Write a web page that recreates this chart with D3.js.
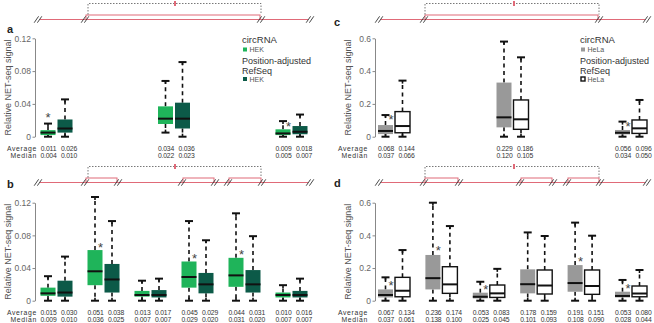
<!DOCTYPE html>
<html>
<head>
<meta charset="utf-8">
<script src="https://cdn.jsdelivr.net/npm/d3@7"></script>
<style>
  body { margin: 0; background: #fff; }
  svg { display: block; font-family: "Liberation Sans", Arial, sans-serif; }
</style>
</head>
<body>
<div id="chart"></div>
<script>
// box stats per box: [min, q1, median, q3, max]
const aCirc = [[0, 0.002, 0.005, 0.008, 0.016], [0.005, 0.0155, 0.022, 0.037, 0.068], [0, 0.002, 0.004, 0.009, 0.019]];
const aRef  = [[0, 0.005, 0.010, 0.021, 0.0455], [0, 0.010, 0.022, 0.0415, 0.091], [0, 0.003, 0.006, 0.013, 0.027]];
const aAvg = ["0.011", "0.026", "0.034", "0.036", "0.009", "0.018"];
const aMed = ["0.004", "0.010", "0.022", "0.023", "0.005", "0.007"];
const aStars = [0.025, null, 0.014];
const aGroups = [0, 2.5, 5];

const bCirc = [[0, 0.006, 0.009, 0.016, 0.030], [0, 0.019, 0.036, 0.062, 0.127], [0, 0.005, 0.007, 0.012, 0.0245],
               [0, 0.016, 0.029, 0.048, 0.0975], [0, 0.017, 0.031, 0.0525, 0.107], [0, 0.004, 0.007, 0.010, 0.019]];
const bRef  = [[0, 0.005, 0.010, 0.0245, 0.054], [0, 0.010, 0.026, 0.045, 0.0975], [0, 0.004, 0.007, 0.013, 0.027],
               [0, 0.009, 0.020, 0.034, 0.074], [0, 0.010, 0.020, 0.0375, 0.079], [0, 0.004, 0.007, 0.012, 0.027]];
const bAvg = ["0.015", "0.030", "0.051", "0.038", "0.013", "0.017", "0.045", "0.029", "0.044", "0.031", "0.010", "0.016"];
const bMed = ["0.009", "0.010", "0.036", "0.025", "0.007", "0.007", "0.029", "0.020", "0.031", "0.020", "0.007", "0.007"];
const bStars = [null, 0.067, null, 0.054, 0.059, null];
const bGroups = [0, 1, 2, 3, 4, 5];

const cCirc = [[0, 0.016, 0.035, 0.071, 0.132], [0, 0.057, 0.118, 0.33, 0.58], [0, 0.014, 0.024, 0.041, 0.092]];
const cRef  = [[0, 0.024, 0.065, 0.153, 0.342], [0, 0.045, 0.106, 0.224, 0.484], [0, 0.020, 0.051, 0.102, 0.224]];
const cAvg = ["0.068", "0.144", "0.229", "0.186", "0.056", "0.096"];
const cMed = ["0.037", "0.066", "0.120", "0.105", "0.034", "0.050"];
const cStars = [0.112, null, 0.071];
const cGroups = [0, 2.5, 5];

const dCirc = [[0, 0.020, 0.035, 0.069, 0.143], [0, 0.069, 0.138, 0.28, 0.60], [0, 0.014, 0.024, 0.049, 0.116],
               [0, 0.045, 0.101, 0.192, 0.418], [0, 0.055, 0.108, 0.218, 0.478], [0, 0.020, 0.029, 0.055, 0.127]];
const dRef  = [[0, 0.024, 0.061, 0.143, 0.31], [0, 0.045, 0.100, 0.208, 0.457], [0, 0.020, 0.045, 0.096, 0.195],
               [0, 0.041, 0.093, 0.188, 0.396], [0, 0.039, 0.090, 0.188, 0.398], [0, 0.024, 0.044, 0.090, 0.188]];
const dAvg = ["0.067", "0.134", "0.236", "0.174", "0.053", "0.083", "0.178", "0.159", "0.191", "0.151", "0.053", "0.080"];
const dMed = ["0.037", "0.061", "0.138", "0.100", "0.025", "0.045", "0.101", "0.093", "0.108", "0.090", "0.028", "0.044"];
const dStars = [0.10, 0.314, 0.08, null, 0.249, 0.086];
const dGroups = [0, 1, 2, 3, 4, 5];

const ticksHEK = [0, 0.04, 0.08, 0.12];
const ticksHeLa = [0, 0.2, 0.4, 0.6];

// gene models (arbitrary units along the locus)
const geneA = { breaks: [0, 47, 223, 272], exons: [[47, 223]], bracket: [50, 223], site: 137 };
const geneB = { breaks: [0, 47, 80, 144, 177, 190, 224, 272], exons: [[47, 80], [144, 177], [190, 224]], bracket: [50, 223], site: 137 };
const geneC = { breaks: [0, 45, 220, 268], exons: [[45, 220]], bracket: [46, 220], site: 135 };
const geneD = { breaks: [0, 45, 80, 141, 174, 188, 221, 268], exons: [[45, 80], [141, 174], [188, 221]], bracket: [46, 220], site: 135 };

const W = 654, H = 323;
const svg = d3.select("#chart").append("svg").attr("width", W).attr("height", H);

const red = "#e06a78";

function drawGene(gene, x, yLine) {
  const g = svg.append("g");
  const b = gene.breaks;
  g.append("line")
    .attr("x1", x(b[0]) + 2).attr("x2", x(b[b.length - 1]) - 2)
    .attr("y1", yLine).attr("y2", yLine)
    .attr("stroke", red).attr("stroke-width", 1.2);
  gene.exons.forEach(e => {
    g.append("rect")
      .attr("x", x(e[0]) + 1).attr("y", yLine - 4.5)
      .attr("width", x(e[1]) - x(e[0]) - 2).attr("height", 4.5)
      .attr("fill", "#fff").attr("stroke", red).attr("stroke-width", 1);
  });
  // break marks "//"
  b.forEach(v => {
    [-1.6, 1.6].forEach(o => {
      g.append("line")
        .attr("x1", x(v) + o - 2.2).attr("y1", yLine + 3.2)
        .attr("x2", x(v) + o + 2.2).attr("y2", yLine - 3.2)
        .attr("stroke", "#333").attr("stroke-width", 0.9);
    });
  });
  const yTop = yLine - 16;
  g.append("path")
    .attr("d", `M${x(gene.bracket[0])},${yLine - 5}V${yTop}H${x(gene.bracket[1])}V${yLine - 5}`)
    .attr("fill", "none").attr("stroke", "#555").attr("stroke-width", 0.8)
    .attr("stroke-dasharray", "1.5,1.5");
  g.append("rect")
    .attr("x", x(gene.site) - 1).attr("y", yTop - 2.5)
    .attr("width", 2).attr("height", 5).attr("fill", red);
}

function drawPanel(p) {
  const g = svg.append("g");
  const y = d3.scaleLinear().domain([0, p.ticks[p.ticks.length - 1]]).range([p.y0, p.y1]);
  const xg = d3.scaleLinear().domain([0, 5]).range(p.xRange);

  const axis = d3.axisLeft(y).tickValues(p.ticks).tickSize(2.5).tickSizeOuter(0).tickPadding(1.5)
    .tickFormat(d => d === 0 ? "0" : d3.format(p.fmt)(d));
  const ax = g.append("g").attr("transform", `translate(${p.axisX},0)`).call(axis);
  ax.select(".domain").attr("stroke", "#888");
  ax.selectAll(".tick line").attr("stroke", "#888");
  ax.selectAll(".tick text").attr("fill", "#666").style("font-size", "8.5px")
    .style("font-family", "'Liberation Sans', Arial, sans-serif");

  g.append("text")
    .attr("transform", `translate(${p.axisX - 24},${(p.y0 + p.y1) / 2}) rotate(-90)`)
    .attr("text-anchor", "middle").attr("fill", "#555").style("font-size", "9px")
    .text("Relative NET-seq signal");

  g.append("text").attr("x", p.letterX).attr("y", p.letterY)
    .style("font-size", "11px").style("font-weight", "bold").attr("fill", "#222").text(p.letter);

  const bw = 15, off = 8.5;
  const boxes = [];
  p.groups.forEach((gi, i) => {
    boxes.push({ cx: xg(gi) - off, lx: xg(gi) - 8, s: p.circ[i], fill: p.circFill, stroke: "none", star: p.stars[i] });
    boxes.push({ cx: xg(gi) + off, lx: xg(gi) + 12.5, s: p.ref[i], fill: p.refFill, stroke: p.refStroke, star: null });
  });

  boxes.forEach((b, i) => {
    const [mn, q1, md, q3, mx] = b.s;
    // whiskers
    g.append("line").attr("x1", b.cx).attr("x2", b.cx).attr("y1", y(q3)).attr("y2", y(mx))
      .attr("stroke", "#111").attr("stroke-width", 1.6).attr("stroke-dasharray", "4,3.5");
    g.append("line").attr("x1", b.cx).attr("x2", b.cx).attr("y1", y(q1)).attr("y2", y(mn))
      .attr("stroke", "#111").attr("stroke-width", 1.6).attr("stroke-dasharray", "4,3.5");
    g.append("line").attr("x1", b.cx).attr("x2", b.cx).attr("y1", y(mx)).attr("y2", y(mx) + 3)
      .attr("stroke", "#111").attr("stroke-width", 1.6);
    g.append("line").attr("x1", b.cx).attr("x2", b.cx).attr("y1", y(mn)).attr("y2", y(mn) - 3)
      .attr("stroke", "#111").attr("stroke-width", 1.6);
    [mx, mn].forEach(v => {
      g.append("line").attr("x1", b.cx - 4).attr("x2", b.cx + 4).attr("y1", y(v)).attr("y2", y(v))
        .attr("stroke", "#111").attr("stroke-width", 2);
    });
    g.append("rect").attr("x", b.cx - bw / 2).attr("y", y(q3))
      .attr("width", bw).attr("height", y(q1) - y(q3))
      .attr("fill", b.fill).attr("stroke", b.stroke).attr("stroke-width", 1.4);
    g.append("line").attr("x1", b.cx - bw / 2).attr("x2", b.cx + bw / 2).attr("y1", y(md)).attr("y2", y(md))
      .attr("stroke", "#111").attr("stroke-width", 2);
    if (b.star != null) {
      const above = b.star > mx;
      g.append("text").attr("x", above ? b.cx : b.cx + 5.5).attr("y", y(b.star) + 6)
        .attr("text-anchor", "middle").attr("fill", "#444").style("font-size", "13px").text("*");
    }
    g.append("text").attr("x", b.lx).attr("y", p.avgY).attr("text-anchor", "middle")
      .attr("fill", "#333").style("font-size", "6.8px").style("letter-spacing", "-0.2px").text(p.avg[i]);
    g.append("text").attr("x", b.lx).attr("y", p.avgY + 7.2).attr("text-anchor", "middle")
      .attr("fill", "#333").style("font-size", "6.8px").style("letter-spacing", "-0.2px").text(p.med[i]);
  });

  g.append("text").attr("x", p.rowLabelX).attr("y", p.avgY).attr("text-anchor", "end")
    .attr("fill", "#333").style("font-size", "6.8px").style("letter-spacing", "0.7px").text("Average");
  g.append("text").attr("x", p.rowLabelX).attr("y", p.avgY + 7.2).attr("text-anchor", "end")
    .attr("fill", "#333").style("font-size", "6.8px").style("letter-spacing", "0.7px").text("Median");

  if (p.legend) {
    const L = p.legend;
    const lg = g.append("g").attr("transform", `translate(${L.x},0)`).attr("fill", "#333");
    lg.append("text").attr("y", 42.5).style("font-size", "9.5px").text("circRNA");
    lg.append("rect").attr("x", 1).attr("y", 47.5).attr("width", 4).attr("height", 4)
      .attr("fill", p.circFill);
    lg.append("text").attr("x", 7.5).attr("y", 52).style("font-size", "7px").attr("fill", "#555").text(L.label);
    lg.append("text").attr("y", 64).style("font-size", "9px").text("Position-adjusted");
    lg.append("text").attr("y", 74).style("font-size", "9px").text("RefSeq");
    lg.append("rect").attr("x", 1).attr("y", 77).attr("width", 4).attr("height", 4)
      .attr("fill", p.refFill).attr("stroke", p.refStroke).attr("stroke-width", 1.4);
    lg.append("text").attr("x", 7.5).attr("y", 81.5).style("font-size", "7px").attr("fill", "#555").text(L.label);
  }
}

const xGeneL = d3.scaleLinear().domain([0, 272]).range([38, 310]);
const xGeneR = d3.scaleLinear().domain([0, 268]).range([379, 647]);
drawGene(geneA, xGeneL, 19.5);
drawGene(geneB, xGeneL, 182.5);
drawGene(geneC, xGeneR, 19.5);
drawGene(geneD, xGeneR, 182.5);

const green = "#1fb45a", dark = "#0c5a48", grey = "#999999";

drawPanel({ letter: "a", letterX: 7, letterY: 33, axisX: 35, y0: 136.7, y1: 38.3, ticks: ticksHEK, fmt: ".2f",
  xRange: [56.5, 291.5], groups: aGroups, circ: aCirc, ref: aRef, avg: aAvg, med: aMed, stars: aStars,
  circFill: green, refFill: dark, refStroke: "none", avgY: 150.5, rowLabelX: 37,
  legend: { x: 242, label: "HEK" } });
drawPanel({ letter: "b", letterX: 7, letterY: 188, axisX: 35, y0: 300.7, y1: 202.7, ticks: ticksHEK, fmt: ".2f",
  xRange: [56.5, 291.5], groups: bGroups, circ: bCirc, ref: bRef, avg: bAvg, med: bMed, stars: bStars,
  circFill: green, refFill: dark, refStroke: "none", avgY: 314.5, rowLabelX: 37 });
drawPanel({ letter: "c", letterX: 334, letterY: 26, axisX: 375, y0: 136.7, y1: 38.3, ticks: ticksHeLa, fmt: ".1f",
  xRange: [394, 631], groups: cGroups, circ: cCirc, ref: cRef, avg: cAvg, med: cMed, stars: cStars,
  circFill: grey, refFill: "#fff", refStroke: "#111", avgY: 150.5, rowLabelX: 368,
  legend: { x: 580, label: "HeLa" } });
drawPanel({ letter: "d", letterX: 334, letterY: 187, axisX: 375, y0: 300.7, y1: 202.7, ticks: ticksHeLa, fmt: ".1f",
  xRange: [394, 631], groups: dGroups, circ: dCirc, ref: dRef, avg: dAvg, med: dMed, stars: dStars,
  circFill: grey, refFill: "#fff", refStroke: "#111", avgY: 314.5, rowLabelX: 368 });
</script>
</body>
</html>
